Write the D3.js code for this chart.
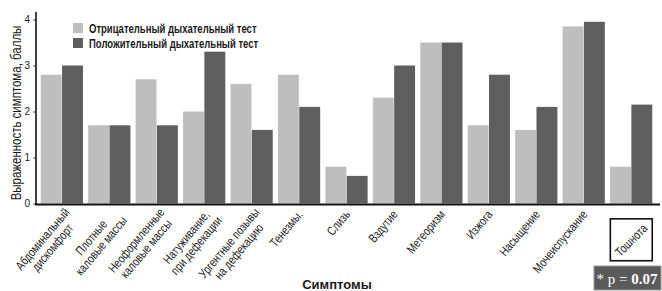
<!DOCTYPE html>
<html><head><meta charset="utf-8">
<script src="https://cdn.jsdelivr.net/npm/d3@7"></script>
<style>
html,body{margin:0;padding:0;background:#fff;}
svg{display:block;}
text{font-family:'Liberation Sans',Arial,sans-serif;fill:#1a1a1a;}
</style></head>
<body>
<script>
const categories = [
  ["Абдоминальный","дискомфорт"],
  ["Плотные","каловые массы"],
  ["Неоформленные","каловые массы"],
  ["Натуживание,","при дефекации"],
  ["Ургентные позывы","на дефекацию"],
  ["Тенезмы."],
  ["Слизь"],
  ["Вздутие"],
  ["Метеоризм"],
  ["Изжога"],
  ["Насыщение"],
  ["Мочеиспускание"],
  ["Тошнота"]
];
const negative = [2.8, 1.7, 2.7, 2.0, 2.6, 2.8, 0.8, 2.3, 3.5, 1.7, 1.6, 3.85, 0.8];
const positive = [3.0, 1.7, 1.7, 3.3, 1.6, 2.1, 0.6, 3.0, 3.5, 2.8, 2.1, 3.95, 2.15];
const seriesNames = ["Отрицательный дыхательный тест","Положительный дыхательный тест"];
const highlighted = ["Тошнота"];
const yTicks = [0,1,2,3,4];
const yTitle = "Выраженность симптома, баллы";
const xTitle = "Симптомы";
const pNote = ["* p = ", "0.07"];

const W = 662, H = 291;
const colors = ["#bebebe", "#5e5e5e"];
const narrow = 0.8;
const svg = d3.select("body").append("svg").attr("width", W).attr("height", H);

const x0 = 36, yBase = 203.5;
const x = d3.scaleBand().domain(d3.range(categories.length)).range([x0, 657]).paddingInner(0.11).paddingOuter(0.1);
const xs = d3.scaleBand().domain([0,1]).range([0, x.bandwidth()]).paddingInner(0.02);
const y = d3.scaleLinear().domain([0,4]).range([yBase, 19.5]);

// bars
const rows = categories.map((c,i)=>({i, vals:[negative[i], positive[i]]}));
const g = svg.append("g");
g.selectAll("g.grp").data(rows).join("g").attr("class","grp")
  .attr("transform", d=>`translate(${x(d.i)},0)`)
  .selectAll("rect").data(d=>d.vals.map((v,k)=>({v,k}))).join("rect")
  .attr("x", d=>xs(d.k)).attr("width", xs.bandwidth())
  .attr("y", d=>y(d.v)).attr("height", d=>y(0)-y(d.v))
  .attr("fill", d=>colors[d.k]);

// y axis
const yAxis = d3.axisLeft(y).tickValues(yTicks).tickSize(3).tickPadding(3).tickFormat(d3.format("d"));
const ya = svg.append("g").attr("transform", `translate(${x0},0)`).call(yAxis);
ya.select(".domain").remove();
ya.selectAll(".tick line").attr("stroke","#555");
ya.selectAll(".tick text").attr("font-size", 10).attr("fill","#222");
svg.append("line").attr("x1", x0).attr("x2", x0).attr("y1", 12).attr("y2", yBase+1)
  .attr("stroke","#111").attr("stroke-width",1.6);
svg.append("line").attr("x1", x0-1).attr("x2", 660).attr("y1", yBase+1).attr("y2", yBase+1)
  .attr("stroke","#111").attr("stroke-width",2);

// x labels
const lh = 13;
categories.forEach((lines,i)=>{
  const cx = x(i) + x.bandwidth()/2;
  const isHi = highlighted.includes(lines[0]);
  let ox, oy, angle = -50;
  if (isHi) { ox = cx + 14; oy = 226; angle = -45; }
  else if (lines.length > 1) { ox = cx + 10; oy = 214; }
  else { ox = cx + 1; oy = 212; }
  const lg = svg.append("g").attr("transform", `translate(${ox},${oy}) rotate(${angle}) scale(${narrow},1)`);
  const texts = lines.map((t,k)=> lg.append("text").attr("font-size", 12.5)
      .attr("text-anchor","middle").attr("y", (k-(lines.length-1)/2)*lh).attr("dy","0.35em").text(t));
  const wMax = d3.max(texts, t=>t.node().getComputedTextLength());
  texts.forEach(t=>t.attr("x", -wMax/2));
  if (isHi) {
    const node = texts[0].node();
    const bb = node.getBBox();
    const m = node.getCTM();
    const pts = [[bb.x,bb.y],[bb.x+bb.width,bb.y],[bb.x,bb.y+bb.height],[bb.x+bb.width,bb.y+bb.height]]
      .map(([px,py])=>{ const p = svg.node().createSVGPoint(); p.x=px; p.y=py; return p.matrixTransform(m); });
    const xmin = d3.min(pts,p=>p.x), xmax = d3.max(pts,p=>p.x);
    const ymin = d3.min(pts,p=>p.y), ymax = d3.max(pts,p=>p.y);
    const side = Math.max(xmax-xmin, ymax-ymin) + 4;
    const mx = (xmin+xmax)/2, my = (ymin+ymax)/2;
    svg.append("rect").attr("x", mx-side/2).attr("y", my-side/2).attr("width", side).attr("height", side)
      .attr("fill","none").attr("stroke","#111").attr("stroke-width",1.6);
  }
});

// legend
seriesNames.forEach((s,k)=>{
  svg.append("rect").attr("x",73).attr("y",23+k*15).attr("width",10).attr("height",10).attr("fill",colors[k]);
  svg.append("text").attr("transform",`translate(89,${32.5+k*15}) scale(0.76,1)`)
    .attr("font-size",12.5).attr("font-weight","bold").attr("fill","#222").text(s);
});

// axis titles
svg.append("text").attr("transform", `translate(21,113) rotate(-90) scale(0.82,1)`).attr("text-anchor","middle")
  .attr("font-size",14).attr("fill","#222").text(yTitle);
svg.append("text").attr("x",337).attr("y",289).attr("text-anchor","middle")
  .attr("font-size",13).attr("font-weight","bold").attr("fill","#222").text(xTitle);

// p-value box
svg.append("rect").attr("x",594).attr("y",266).attr("width",67).attr("height",24)
  .attr("fill","#5a5a5a").attr("stroke","#999").attr("stroke-width",1);
const pt = svg.append("text").attr("x",627).attr("y",284).attr("text-anchor","middle")
  .style("font-family","'Liberation Serif','Times New Roman',serif").attr("font-size",15).style("fill","#fff");
pt.append("tspan").text(pNote[0]);
pt.append("tspan").attr("font-weight","bold").text(pNote[1]);
</script>
</body></html>
